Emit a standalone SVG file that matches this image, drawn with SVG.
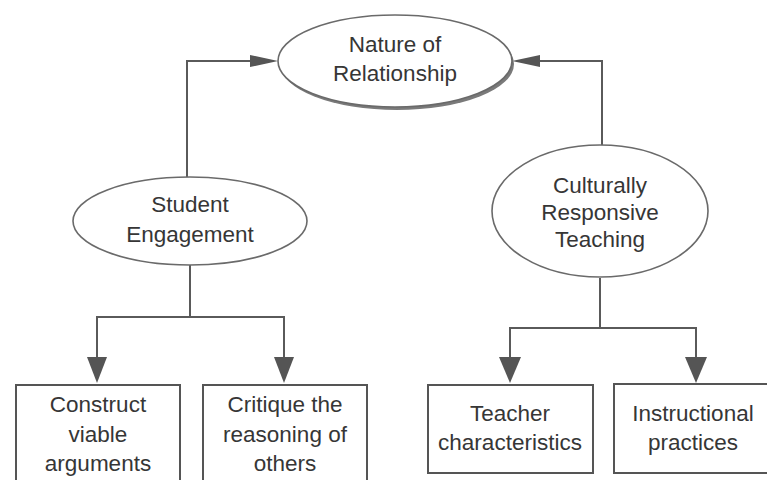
<svg xmlns="http://www.w3.org/2000/svg" width="767" height="480" viewBox="0 0 767 480">
<style>
.node ellipse{fill:#fff;stroke:#6a6a6a;stroke-width:1.6}
.node rect{fill:#fff;stroke:#555;stroke-width:2}
.shadow{fill:#7a7a7a;stroke:none}
text{font-family:"Liberation Sans",Arial,sans-serif;font-size:22.5px;fill:#363636;text-anchor:middle}
.conn path.line{fill:none;stroke:#5a5a5a;stroke-width:2}
.conn path.head{fill:#555;stroke:none}
</style>
<rect width="767" height="480" fill="#fff"/>
<g id="connectors" class="conn">
<path class="line" d="M187,177 V61 H252"/>
<path class="head" d="M278,61 L250,55 L250,67 Z"/>
<path class="line" d="M602,145 V61 H538"/>
<path class="head" d="M512,61 L540,55 L540,67 Z"/>
<path class="line" d="M190,265 V317 M97,359 V317 H284 V359"/>
<path class="head" d="M97,383 L87,357 L107,357 Z"/>
<path class="head" d="M284,383 L274,357 L294,357 Z"/>
<path class="line" d="M600,278 V328 M510,359 V328 H696 V359"/>
<path class="head" d="M510,383 L499,357 L521,357 Z"/>
<path class="head" d="M696,383 L685,357 L707,357 Z"/>
</g>
<g id="nature">
<ellipse class="shadow" cx="397" cy="64" rx="117" ry="46"/>
<g class="node"><ellipse cx="395" cy="61" rx="117" ry="46"/></g>
<text x="395" y="52">Nature of</text>
<text x="395" y="81">Relationship</text>
</g>
<g id="student" class="node">
<ellipse cx="190" cy="221" rx="117" ry="44"/>
<text x="190" y="212">Student</text>
<text x="190" y="242">Engagement</text>
</g>
<g id="crt" class="node">
<ellipse cx="600" cy="211" rx="108" ry="66"/>
<text x="600" y="193">Culturally</text>
<text x="600" y="220">Responsive</text>
<text x="600" y="247">Teaching</text>
</g>
<g id="construct" class="node">
<rect x="16" y="385" width="164" height="110"/>
<text x="98" y="412">Construct</text>
<text x="98" y="442">viable</text>
<text x="98" y="471">arguments</text>
</g>
<g id="critique" class="node">
<rect x="203" y="385" width="164" height="110"/>
<text x="285" y="412">Critique the</text>
<text x="285" y="442">reasoning of</text>
<text x="285" y="471">others</text>
</g>
<g id="teacher" class="node">
<rect x="428" y="385" width="165" height="88"/>
<text x="510" y="421">Teacher</text>
<text x="510" y="450">characteristics</text>
</g>
<g id="instructional" class="node">
<rect x="614" y="384" width="160" height="89"/>
<text x="693" y="421">Instructional</text>
<text x="693" y="450">practices</text>
</g>
</svg>
